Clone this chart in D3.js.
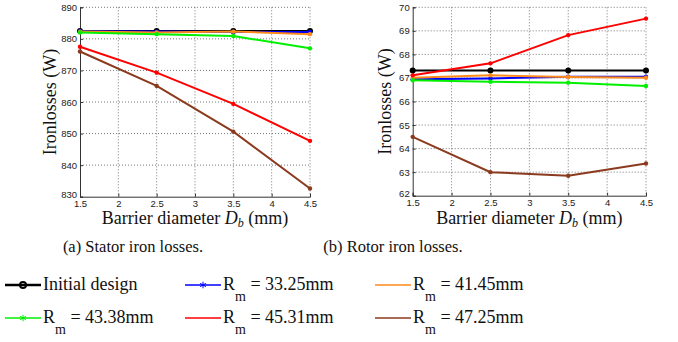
<!DOCTYPE html>
<html>
<head>
<meta charset="utf-8">
<script src="https://cdn.jsdelivr.net/npm/d3@7"></script>
<style>
  body { margin: 0; background: #fff; }
  svg { display: block; }
</style>
</head>
<body>
<div id="chart"></div>
<script>
// x values (barrier diameter, mm)
var diam = [1.5, 2.5, 3.5, 4.5];
var xTicks = [1.5, 2, 2.5, 3, 3.5, 4, 4.5];

// series names + colours
var names = ["Initial design", "33.25mm", "41.45mm", "43.38mm", "45.31mm", "47.25mm"];
var colors = ["#000000", "#0000ff", "#ff8a1c", "#00f000", "#ff0000", "#8b3a1e"];

// stator iron losses (W)
var statorInit  = [882.5, 882.5, 882.5, 882.5];
var stator3325  = [882.4, 882.3, 882.2, 882.2];
var stator4145  = [882.3, 882.0, 882.3, 881.5];
var stator4338  = [882.0, 881.5, 880.9, 877.0];
var stator4531  = [877.5, 869.3, 859.4, 847.7];
var stator4725  = [876.0, 865.1, 850.6, 832.6];

// rotor iron losses (W)
var rotorInit  = [67.32, 67.32, 67.32, 67.32];
var rotor3325  = [66.94, 66.98, 67.05, 67.05];
var rotor4145  = [67.01, 67.11, 67.04, 67.01];
var rotor4338  = [66.90, 66.84, 66.80, 66.66];
var rotor4531  = [67.11, 67.62, 68.82, 69.52];
var rotor4725  = [64.50, 63.00, 62.85, 63.37];

var statorTicks = [830, 840, 850, 860, 870, 880, 890];
var rotorTicks = [62, 63, 64, 65, 66, 67, 68, 69, 70];

var SERIF = "Liberation Serif";
var SANS = "Liberation Sans";

var W = 678, H = 342;
var svg = d3.select("#chart").append("svg").attr("width", W).attr("height", H);

function panel(opts) {
  var g = svg.append("g");
  var x = d3.scaleLinear().domain([1.5, 4.5]).range([opts.x0, opts.x1]);
  var y = d3.scaleLinear().domain(opts.yDomain).range([opts.y1, opts.y0]);

  // dotted grid (also gives the dotted top / right border)
  g.append("g").selectAll("line").data(xTicks.slice(1)).join("line")
    .attr("x1", d => x(d)).attr("x2", d => x(d))
    .attr("y1", opts.y0).attr("y2", opts.y1)
    .attr("stroke", "#555").attr("stroke-width", 0.8).attr("stroke-dasharray", "1,2");
  g.append("g").selectAll("line").data(opts.yTicks.slice(1)).join("line")
    .attr("x1", opts.x0).attr("x2", opts.x1)
    .attr("y1", d => y(d)).attr("y2", d => y(d))
    .attr("stroke", "#555").attr("stroke-width", 0.8).attr("stroke-dasharray", "1,2");

  // axes
  var xa = g.append("g").attr("transform", `translate(0,${opts.y1})`)
    .call(d3.axisBottom(x).tickValues(xTicks).tickSize(-3).tickPadding(4).tickFormat(d3.format("")));
  var ya = g.append("g").attr("transform", `translate(${opts.x0},0)`)
    .call(d3.axisLeft(y).tickValues(opts.yTicks).tickSize(-3).tickPadding(3));
  [xa, ya].forEach(a => {
    a.attr("font-family", SANS).attr("font-size", 9.5);
    a.select(".domain").attr("stroke", "#333").attr("stroke-width", 1);
    a.selectAll(".tick line").attr("stroke", "#333");
    a.selectAll(".tick text").attr("fill", "#222");
  });
  // nudge the lowest y label up a bit so it clears the first x label
  ya.selectAll(".tick text").filter(d => d === opts.yTicks[0]).attr("dy", "0.1em");

  var line = d3.line().x((d, i) => x(diam[i])).y(d => y(d));
  opts.series.forEach((s, k) => {
    g.append("path").attr("d", line(s)).attr("fill", "none")
      .attr("stroke", colors[k]).attr("stroke-width", 2);
    g.append("g").selectAll("circle").data(s).join("circle")
      .attr("cx", (d, i) => x(diam[i])).attr("cy", d => y(d))
      .attr("r", k === 0 ? 3 : 2.2).attr("fill", colors[k]);
  });

  // axis titles
  var xl = g.append("text").attr("font-family", SERIF).attr("fill", "#111")
    .attr("x", (opts.x0 + opts.x1) / 2).attr("y", 224).attr("text-anchor", "middle")
    .attr("font-size", 18);
  xl.append("tspan").text("Barrier diameter ");
  xl.append("tspan").attr("font-style", "italic").text("D");
  xl.append("tspan").attr("font-style", "italic").attr("font-size", 12).attr("dy", 3).text("b");
  xl.append("tspan").attr("dy", -3).text(" (mm)");

  g.append("text").attr("font-family", SERIF).attr("fill", "#111")
    .attr("transform", `translate(${opts.ylx},${(opts.y0 + opts.y1) / 2}) rotate(-90)`)
    .attr("text-anchor", "middle").attr("font-size", 18).text("Ironlosses (W)");

  g.append("text").attr("font-family", SERIF).attr("fill", "#111")
    .attr("x", opts.capX).attr("y", 252).attr("text-anchor", "middle")
    .attr("font-size", 16.5).text(opts.caption);
}

panel({
  x0: 80, x1: 310, y0: 7.3, y1: 196.7, yDomain: [830, 890], yTicks: statorTicks,
  series: [statorInit, stator3325, stator4145, stator4338, stator4531, stator4725],
  ylx: 56, capX: 133, caption: "(a) Stator iron losses."
});
panel({
  x0: 412.7, x1: 646, y0: 7.3, y1: 195.7, yDomain: [62, 70], yTicks: rotorTicks,
  series: [rotorInit, rotor3325, rotor4145, rotor4338, rotor4531, rotor4725],
  ylx: 391, capX: 393, caption: "(b) Rotor iron losses."
});

// legend
var legPos = [[5, 285], [185, 285], [375, 285], [5, 318], [185, 318], [375, 318]];
var legMark = ["o", "*", "", "*", "", ""];
var lg = svg.append("g");
names.forEach((n, k) => {
  var px = legPos[k][0], py = legPos[k][1];
  lg.append("line").attr("x1", px).attr("x2", px + 36).attr("y1", py).attr("y2", py)
    .attr("stroke", colors[k]).attr("stroke-width", k === 0 ? 2.5 : 1.5);
  if (legMark[k] === "o") {
    lg.append("circle").attr("cx", px + 18).attr("cy", py).attr("r", 3)
      .attr("fill", "none").attr("stroke", colors[k]).attr("stroke-width", 2);
  } else if (legMark[k] === "*") {
    lg.append("path").attr("d", d3.symbol(d3.symbolAsterisk || d3.symbolCross, 30)())
      .attr("transform", `translate(${px + 18},${py})`)
      .attr("fill", colors[k]).attr("stroke", colors[k]).attr("stroke-width", 1);
  }
  var t = lg.append("text").attr("font-family", SERIF).attr("fill", "#111")
    .attr("x", px + 38).attr("y", py + 5).attr("font-size", 18);
  if (k === 0) {
    t.text(n);
  } else {
    t.append("tspan").text("R");
    t.append("tspan").attr("font-size", 14).attr("dy", 11).text("m");
    t.append("tspan").attr("dy", -11).text(" = " + n);
  }
});
</script>
</body>
</html>
